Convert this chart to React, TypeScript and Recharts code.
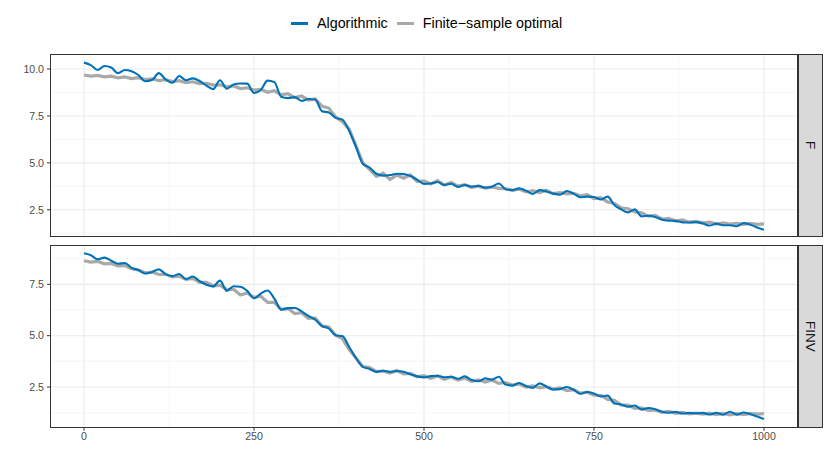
import { LineChart, Line, XAxis, YAxis, ReferenceLine } from 'recharts';

// x positions (iteration) shared by every series
const steps = [
  0, 10, 20, 30, 40, 50, 60, 70, 80, 90, 100, 110, 120, 130, 140, 150, 160, 170, 180, 190,
  200, 210, 220, 230, 240, 250, 260, 270, 280, 290, 300, 310, 320, 330, 340, 350, 360, 370, 380, 390,
  400, 410, 420, 430, 440, 450, 460, 470, 480, 490, 500, 510, 520, 530, 540, 550, 560, 570, 580, 590,
  600, 610, 620, 630, 640, 650, 660, 670, 680, 690, 700, 710, 720, 730, 740, 750, 760, 770, 780, 790,
  800, 810, 820, 830, 840, 850, 860, 870, 880, 890, 900, 910, 920, 930, 940, 950, 960, 970, 980, 990,
  1000,
];

// panel F
const fAlgorithmic = [
  10.34, 10.21, 9.95, 10.16, 10.08, 9.78, 9.95, 9.88, 9.68, 9.35,
  9.41, 9.78, 9.45, 9.27, 9.63, 9.4, 9.5, 9.36, 9.12, 8.93,
  9.4, 8.95, 9.18, 9.23, 9.22, 8.72, 8.88, 9.38, 9.3, 8.52,
  8.45, 8.5, 8.3, 8.4, 8.38, 7.75, 7.68, 7.4, 7.3, 6.7,
  5.85, 4.95, 4.75, 4.42, 4.32, 4.35, 4.42, 4.4, 4.3, 4.1,
  3.88, 3.9, 3.98, 3.82, 3.89, 3.72, 3.82, 3.73, 3.78, 3.68,
  3.73, 3.9, 3.6, 3.55, 3.64, 3.52, 3.35, 3.55, 3.48, 3.36,
  3.3, 3.5, 3.36, 3.17, 3.2, 3.18, 3.05, 3.2, 2.75, 2.52,
  2.36, 2.52, 2.15, 2.18, 2.12, 1.97, 1.92, 1.91, 1.83, 1.82,
  1.84, 1.77, 1.66, 1.76, 1.68, 1.68, 1.62, 1.79, 1.7, 1.56,
  1.43,
];
const fOptimal = [
  9.68, 9.62, 9.66, 9.58, 9.62, 9.53, 9.58, 9.49, 9.54, 9.44,
  9.48, 9.38, 9.43, 9.33, 9.38, 9.27, 9.32, 9.22, 9.24, 9.14,
  9.16, 9.05, 9.1, 8.96, 9.0, 8.88, 8.92, 8.76, 8.84, 8.62,
  8.68, 8.48, 8.56, 8.34, 8.4, 8.02, 7.92, 7.45, 7.2, 6.8,
  5.9, 5.0, 4.65, 4.28, 4.45, 4.12, 4.35, 4.18, 4.36, 4.0,
  4.04, 3.88, 4.05, 3.82, 3.95, 3.76, 3.84, 3.7, 3.76, 3.66,
  3.72, 3.64, 3.62, 3.54, 3.6, 3.45, 3.52, 3.42, 3.54, 3.36,
  3.42, 3.35, 3.38, 3.24, 3.3, 3.1, 3.14, 2.92, 2.84, 2.6,
  2.55, 2.38, 2.34, 2.16, 2.2, 2.01, 2.04, 1.9, 1.96, 1.84,
  1.88, 1.8, 1.84, 1.74, 1.8, 1.74, 1.78, 1.72, 1.77, 1.72,
  1.75,
];

// panel FINV
const finvAlgorithmic = [
  9.01, 8.92, 8.72, 8.8, 8.65, 8.5, 8.54, 8.3, 8.2, 8.03,
  8.1, 8.23, 8.0, 7.9, 8.0, 7.75, 7.88, 7.66, 7.48, 7.4,
  7.68, 7.18, 7.41, 7.38, 7.18, 6.82, 7.05, 7.2, 6.8, 6.27,
  6.34, 6.35, 6.18, 5.96, 5.78, 5.47, 5.35, 5.02, 4.98, 4.45,
  3.9, 3.48, 3.38, 3.24, 3.29, 3.24, 3.28, 3.24, 3.12, 3.02,
  2.97, 3.03, 3.05, 2.98, 3.0, 2.9, 3.02, 2.84, 2.78, 2.92,
  2.86, 3.0, 2.62, 2.57, 2.7, 2.55, 2.46, 2.68, 2.52, 2.38,
  2.4, 2.5, 2.37, 2.17, 2.26, 2.18, 2.04, 2.08, 1.7, 1.65,
  1.54, 1.6, 1.4, 1.48, 1.42, 1.3, 1.25, 1.29, 1.21, 1.24,
  1.22, 1.24, 1.16, 1.24, 1.15, 1.3, 1.15, 1.26, 1.18, 1.06,
  0.94,
];
const finvOptimal = [
  8.65, 8.58, 8.62, 8.5, 8.52, 8.4, 8.42, 8.26, 8.2, 8.06,
  8.1, 7.98, 7.99, 7.86, 7.9, 7.74, 7.79, 7.6, 7.6, 7.42,
  7.46, 7.24, 7.26, 6.98, 7.08, 6.86, 6.92, 6.62, 6.62, 6.28,
  6.32, 6.08, 6.12, 5.84, 5.86, 5.48, 5.42, 5.02, 4.86, 4.32,
  3.92, 3.5, 3.45, 3.25, 3.28, 3.18, 3.3, 3.14, 3.16, 3.0,
  3.05, 2.93, 3.04, 2.88, 2.99, 2.84, 2.94, 2.78, 2.85, 2.74,
  2.84, 2.68, 2.72, 2.6, 2.65, 2.5, 2.56, 2.46, 2.52, 2.4,
  2.46, 2.33, 2.37, 2.2, 2.25, 2.1, 2.1, 1.9, 1.85, 1.62,
  1.62, 1.46, 1.48, 1.36, 1.38, 1.27, 1.31, 1.22, 1.27, 1.19,
  1.23, 1.18, 1.23, 1.16, 1.22, 1.15, 1.22, 1.16, 1.22, 1.18,
  1.21,
];

const xTicks = [0, 250, 500, 750, 1000];
const xMinor = [125, 375, 625, 875];
const fTicks = [2.5, 5, 7.5, 10];
const finvTicks = [2.5, 5, 7.5];
const yMinor = [1.25, 3.75, 6.25, 8.75];

const BLUE = '#0072B8';
const GREY = '#A9A9A9';
const FONT = '"Liberation Sans", Arial, sans-serif';

const data = steps.map((x, i) => ({
  x,
  fAlg: fAlgorithmic[i],
  fOpt: fOptimal[i],
  finvAlg: finvAlgorithmic[i],
  finvOpt: finvOptimal[i],
}));

const tickStyle = { fontSize: 10.6, fill: '#4D4D4D', fontFamily: FONT };

function Panel({
  top,
  height,
  margin,
  domain,
  ticks,
  algKey,
  optKey,
  showX,
}: {
  top: number;
  height: number;
  margin: { top: number; right: number; bottom: number; left: number };
  domain: [number, number];
  ticks: number[];
  algKey: string;
  optKey: string;
  showX: boolean;
}) {
  return (
    <div style={{ position: 'absolute', left: 0, top }}>
      <LineChart width={830} height={height} data={data} margin={margin}>
        <XAxis
          dataKey="x"
          type="number"
          domain={[-50, 1050]}
          ticks={xTicks}
          hide={!showX}
          height={30}
          axisLine={false}
          tickLine={{ stroke: '#333333' }}
          tickSize={3}
          tickMargin={2}
          tick={tickStyle}
        />
        <YAxis
          type="number"
          domain={domain}
          ticks={ticks}
          width={50}
          allowDataOverflow
          axisLine={false}
          tickLine={{ stroke: '#333333' }}
          tickSize={3}
          tickMargin={3}
          tick={tickStyle}
          tickFormatter={(v: number) => v.toFixed(1)}
        />
        {yMinor.map((v) => (
          <ReferenceLine key={`ym${v}`} y={v} stroke="#F2F2F2" strokeWidth={0.7} />
        ))}
        {xMinor.map((v) => (
          <ReferenceLine key={`xm${v}`} x={v} stroke="#F2F2F2" strokeWidth={0.7} />
        ))}
        {ticks.map((v) => (
          <ReferenceLine key={`y${v}`} y={v} stroke="#EBEBEB" strokeWidth={1.1} />
        ))}
        {xTicks.map((v) => (
          <ReferenceLine key={`x${v}`} x={v} stroke="#EBEBEB" strokeWidth={1.1} />
        ))}
        <Line
          dataKey={optKey}
          stroke={GREY}
          strokeWidth={3.2}
          dot={false}
          isAnimationActive={false}
        />
        <Line
          type="monotone"
          dataKey={algKey}
          stroke={BLUE}
          strokeWidth={2.1}
          dot={false}
          isAnimationActive={false}
        />
      </LineChart>
    </div>
  );
}

function Frame({ top, height, label }: { top: number; height: number; label: string }) {
  return (
    <>
      <div
        style={{
          position: 'absolute',
          left: 50,
          top,
          width: 748,
          height,
          border: '1px solid #333333',
          boxSizing: 'border-box',
          pointerEvents: 'none',
        }}
      />
      <div
        style={{
          position: 'absolute',
          left: 798,
          top,
          width: 25,
          height,
          background: '#D9D9D9',
          border: '1px solid #333333',
          boxSizing: 'border-box',
          display: 'flex',
          alignItems: 'center',
          justifyContent: 'center',
        }}
      >
        <span
          style={{
            writingMode: 'vertical-rl',
            fontSize: 13.5,
            color: '#1A1A1A',
            fontFamily: FONT,
          }}
        >
          {label}
        </span>
      </div>
    </>
  );
}

function LegendKey({ color, label }: { color: string; label: string }) {
  return (
    <div style={{ display: 'flex', alignItems: 'center', marginRight: 9 }}>
      <span style={{ width: 17, height: 3, background: color, marginRight: 9 }} />
      <span style={{ fontSize: 14.3, color: '#000000', fontFamily: FONT }}>{label}</span>
    </div>
  );
}

export default function App() {
  return (
    <div
      style={{
        position: 'absolute',
        left: 0,
        top: 0,
        width: 830,
        height: 467,
        background: '#FFFFFF',
        fontFamily: FONT,
        overflow: 'hidden',
      }}
    >
      <div
        style={{
          position: 'absolute',
          left: 291,
          top: 13,
          height: 20,
          display: 'flex',
          alignItems: 'center',
        }}
      >
        <LegendKey color={BLUE} label="Algorithmic" />
        <LegendKey color={GREY} label="Finite−sample optimal" />
      </div>

      <Panel
        top={0}
        height={240}
        margin={{ top: 54, right: 32, bottom: 3, left: 0 }}
        domain={[1.05, 10.8]}
        ticks={fTicks}
        algKey="fAlg"
        optKey="fOpt"
        showX={false}
      />
      <Panel
        top={240}
        height={227}
        margin={{ top: 4.7, right: 32, bottom: 9.3, left: 0 }}
        domain={[0.52, 9.43]}
        ticks={finvTicks}
        algKey="finvAlg"
        optKey="finvOpt"
        showX
      />

      <Frame top={54} height={183} label="F" />
      <Frame top={244.7} height={183} label="FINV" />
    </div>
  );
}
